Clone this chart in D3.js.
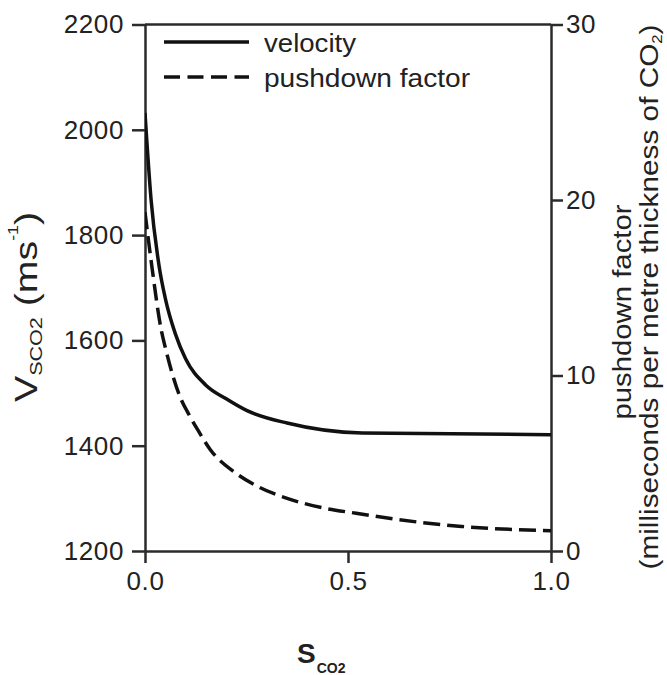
<!DOCTYPE html>
<html>
<head>
<meta charset="utf-8">
<script src="https://cdn.jsdelivr.net/npm/d3@7"></script>
<style>
  body { margin: 0; background: #fff; }
  svg { display: block; font-family: "Liberation Sans", Arial, Helvetica, sans-serif; }
</style>
</head>
<body>
<svg id="chart" width="667" height="675"></svg>
<script>
// CO2 saturation vs. velocity (left axis) and pushdown factor (right axis)
const saturationVel = [0, 0.015, 0.035, 0.05, 0.075, 0.1, 0.15, 0.2, 0.25, 0.35, 0.535, 1.0];
const velocity      = [2032, 1867, 1740, 1680, 1612, 1565, 1515, 1489, 1467, 1443, 1424, 1421];

const saturationPush = [0, 0.017, 0.04, 0.05, 0.086, 0.11, 0.13, 0.16, 0.22, 0.28, 0.35, 0.44, 0.52, 0.62, 0.78, 1.0];
const pushdown       = [19.3, 16.2, 12.6, 11.6, 8.8, 7.7, 6.9, 5.8, 4.5, 3.65, 3.0, 2.45, 2.15, 1.8, 1.4, 1.15];

const xTicks = [0, 0.5, 1.0];
const leftTicks = [1200, 1400, 1600, 1800, 2000, 2200];
const rightTicks = [0, 10, 20, 30];
const legendLabels = ["velocity", "pushdown factor"];

const plot = { left: 145, right: 551, top: 24.5, bottom: 551 };
const ink = "#111";
const axisInk = "#2b2b2b";
const textInk = "#222";

const svg = d3.select("#chart");

const x = d3.scaleLinear().domain([0, 1]).range([plot.left, plot.right]);
const yL = d3.scaleLinear().domain([1200, 2200]).range([plot.bottom, plot.top]);
const yR = d3.scaleLinear().domain([0, 30]).range([plot.bottom, plot.top]);

function styleAxis(g) {
  g.selectAll(".domain, .tick line").attr("stroke", axisInk).attr("stroke-width", 2.5);
  g.selectAll(".tick text")
    .attr("fill", textInk)
    .style("font-size", "26px")
    .style("letter-spacing", "0.6px");
}

// axes
svg.append("g")
  .attr("transform", `translate(${plot.left},0)`)
  .call(d3.axisLeft(yL).tickValues(leftTicks).tickFormat(d3.format("d"))
    .tickSize(13).tickPadding(8).tickSizeOuter(0))
  .call(styleAxis);

svg.append("g")
  .attr("transform", `translate(${plot.right},0)`)
  .call(d3.axisRight(yR).tickValues(rightTicks).tickFormat(d3.format("d"))
    .tickSize(12).tickPadding(3).tickSizeOuter(0))
  .call(styleAxis);

svg.append("g")
  .attr("transform", `translate(0,${plot.bottom})`)
  .call(d3.axisBottom(x).tickValues(xTicks).tickFormat(d3.format(".1f"))
    .tickSize(12).tickPadding(9).tickSizeOuter(0))
  .call(styleAxis);

// top frame line
svg.append("line")
  .attr("x1", plot.left).attr("x2", plot.right)
  .attr("y1", plot.top).attr("y2", plot.top)
  .attr("stroke", axisInk).attr("stroke-width", 2.5);

// curves
svg.append("clipPath").attr("id", "plotClip")
  .append("rect")
  .attr("x", plot.left).attr("y", plot.top)
  .attr("width", plot.right - plot.left).attr("height", plot.bottom - plot.top);

const velLine = d3.line()
  .x((d, i) => x(saturationVel[i]))
  .y(d => yL(d))
  .curve(d3.curveMonotoneX);

const pushLine = d3.line()
  .x((d, i) => x(saturationPush[i]))
  .y(d => yR(d))
  .curve(d3.curveMonotoneX);

const curves = svg.append("g").attr("clip-path", "url(#plotClip)");

curves.append("path")
  .attr("d", velLine(velocity))
  .attr("fill", "none").attr("stroke", ink).attr("stroke-width", 3.5);

curves.append("path")
  .attr("d", pushLine(pushdown))
  .attr("fill", "none").attr("stroke", ink).attr("stroke-width", 3.5)
  .attr("stroke-dasharray", "17,7");

// legend
const legend = svg.append("g");
const legendRows = [
  { label: legendLabels[0], y: 42, dash: null, textY: 51.5, len: 92 },
  { label: legendLabels[1], y: 77, dash: "16,7.5", textY: 87, len: 206 }
];
legendRows.forEach(r => {
  legend.append("line")
    .attr("x1", 164).attr("x2", 249)
    .attr("y1", r.y).attr("y2", r.y)
    .attr("stroke", ink).attr("stroke-width", 3.5)
    .attr("stroke-dasharray", r.dash);
  legend.append("text")
    .attr("x", 264).attr("y", r.textY)
    .attr("fill", textInk)
    .style("font-size", "25px")
    .attr("textLength", r.len).attr("lengthAdjust", "spacingAndGlyphs")
    .text(r.label);
});

// left axis title: V_SCO2 (ms^-1)
const leftTitle = svg.append("text")
  .attr("transform", "translate(37,402) rotate(-90)")
  .attr("fill", textInk)
  .attr("textLength", 190).attr("lengthAdjust", "spacingAndGlyphs");
leftTitle.append("tspan").style("font-size", "31px").text("V");
leftTitle.append("tspan").style("font-size", "17px").attr("dy", 5).text("SCO2");
leftTitle.append("tspan").style("font-size", "31px").attr("dy", -5).text(" (ms");
leftTitle.append("tspan").style("font-size", "14px").attr("dy", -19).text("-1");
leftTitle.append("tspan").style("font-size", "31px").attr("dy", 19).text(")");

// right axis title (two lines)
svg.append("text")
  .attr("transform", "translate(631,312) rotate(-90)")
  .attr("text-anchor", "middle")
  .attr("fill", textInk)
  .style("font-size", "25px")
  .attr("textLength", 215).attr("lengthAdjust", "spacingAndGlyphs")
  .text("pushdown factor");

const rightTitle2 = svg.append("text")
  .attr("transform", "translate(658,297) rotate(-90)")
  .attr("text-anchor", "middle")
  .attr("fill", textInk)
  .style("font-size", "25px")
  .attr("textLength", 545).attr("lengthAdjust", "spacingAndGlyphs");
rightTitle2.append("tspan").text("(milliseconds per metre thickness of CO");
rightTitle2.append("tspan").style("font-size", "14px").attr("dy", 4).text("2");
rightTitle2.append("tspan").attr("dy", -4).text(")");

// x axis title: S_CO2
const xTitle = svg.append("text")
  .attr("x", 297).attr("y", 663)
  .attr("fill", textInk)
  .style("font-weight", "bold");
xTitle.append("tspan").style("font-size", "28px").text("S");
xTitle.append("tspan").style("font-size", "14px").attr("dx", 1).attr("dy", 10).text("CO2");
</script>
</body>
</html>
